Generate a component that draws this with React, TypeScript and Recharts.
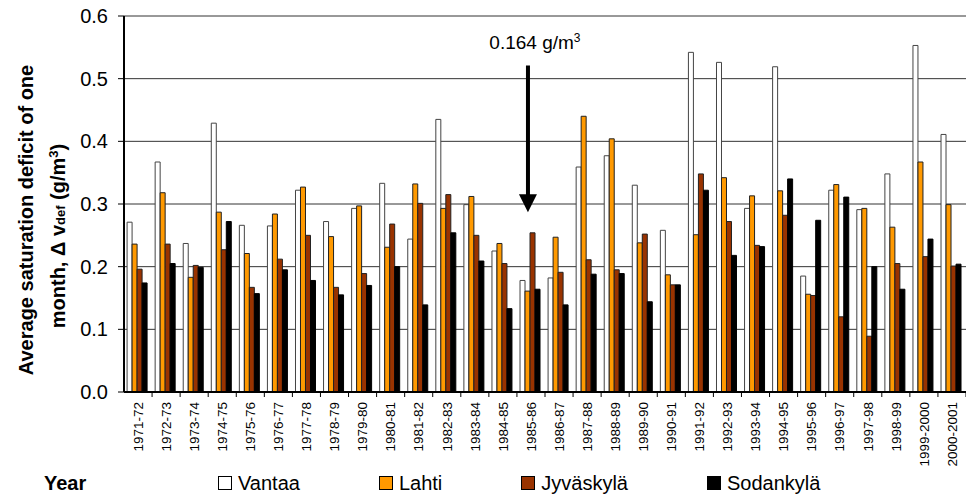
import { BarChart, Bar, XAxis, YAxis, CartesianGrid, Legend, ReferenceLine, Label } from "recharts"

const years = [
  "1971-72", "1972-73", "1973-74", "1974-75", "1975-76", "1976-77", "1977-78", "1978-79",
  "1979-80", "1980-81", "1981-82", "1982-83", "1983-84", "1984-85", "1985-86", "1986-87",
  "1987-88", "1988-89", "1989-90", "1990-91", "1991-92", "1992-93", "1993-94", "1994-95",
  "1995-96", "1996-97", "1997-98", "1998-99", "1999-2000", "2000-2001",
]

const vantaa = [
  0.271, 0.367, 0.237, 0.429, 0.266, 0.265, 0.322, 0.272, 0.293, 0.333,
  0.244, 0.435, 0.299, 0.225, 0.178, 0.182, 0.359, 0.377, 0.33, 0.258,
  0.542, 0.526, 0.293, 0.519, 0.185, 0.322, 0.291, 0.348, 0.553, 0.411,
]
const lahti = [
  0.236, 0.318, 0.183, 0.287, 0.221, 0.284, 0.327, 0.248, 0.297, 0.231,
  0.332, 0.293, 0.312, 0.237, 0.161, 0.247, 0.44, 0.404, 0.238, 0.187,
  0.251, 0.342, 0.313, 0.321, 0.156, 0.331, 0.293, 0.263, 0.367, 0.299,
]
const jyvaskyla = [
  0.196, 0.236, 0.202, 0.227, 0.167, 0.212, 0.25, 0.167, 0.189, 0.268,
  0.301, 0.315, 0.25, 0.205, 0.254, 0.191, 0.211, 0.195, 0.252, 0.171,
  0.348, 0.272, 0.234, 0.282, 0.154, 0.12, 0.089, 0.205, 0.216, 0.201,
]
const sodankyla = [
  0.174, 0.205, 0.199, 0.272, 0.157, 0.195, 0.178, 0.155, 0.17, 0.2,
  0.139, 0.254, 0.209, 0.133, 0.164, 0.139, 0.188, 0.189, 0.144, 0.171,
  0.322, 0.218, 0.232, 0.34, 0.274, 0.311, 0.2, 0.164, 0.244, 0.204,
]

const yTicks = [0, 0.1, 0.2, 0.3, 0.4, 0.5, 0.6]

// arrow annotation pointing at Sodankylä 1985-86
const arrowYear = "1985-86"
const arrowTop = 0.521
const arrowTip = 0.287
const arrowLabel = "0.164 g/m"

const series = [
  { key: "vantaa", name: "Vantaa", fill: "#ffffff", stroke: "#444444" },
  { key: "lahti", name: "Lahti", fill: "#ff9900", stroke: "#222222" },
  { key: "jyvaskyla", name: "Jyväskylä", fill: "#993300", stroke: "#222222" },
  { key: "sodankyla", name: "Sodankylä", fill: "#000000", stroke: "#000000" },
]

const data = years.map((year, i) => ({
  year,
  vantaa: vantaa[i],
  lahti: lahti[i],
  jyvaskyla: jyvaskyla[i],
  sodankyla: sodankyla[i],
}))

const font = "Arial, 'Liberation Sans', sans-serif"

function YearTick({ x, y, payload }: any) {
  const half = payload && payload.offset ? payload.offset : 14
  return (
    <g>
      <line x1={x + half} x2={x + half} y1={y} y2={y + 5} stroke="#000" strokeWidth={1} />
      <text
        transform={`translate(${x},${y + 10}) rotate(-90)`}
        textAnchor="end"
        dy="0.35em"
        fontSize={13.5}
        fontFamily={font}
        fill="#000"
      >
        {payload.value}
      </text>
    </g>
  )
}

function YTitle() {
  return (
    <g fontFamily={font} fontWeight="bold" fontSize={20} fill="#000">
      <text transform="translate(33,220) rotate(-90)" textAnchor="middle">
        Average saturation deficit of one
      </text>
      <text transform="translate(65,236) rotate(-90)" textAnchor="middle">
        month, Δ v<tspan fontSize={13}>def</tspan> (g/m<tspan fontSize={13} baselineShift="super">3</tspan>
        <tspan>)</tspan>
      </text>
    </g>
  )
}

function Arrow(props: any) {
  const { x1, y1, x2, y2 } = props
  if (x1 == null) return null
  const head = 18
  return (
    <g>
      <line x1={x1 - 3} y1={y1} x2={x2 - 3} y2={y2 - head + 1} stroke="#000" strokeWidth={4} />
      <polygon points={`${x2 - 12},${y2 - head} ${x2 + 6},${y2 - head} ${x2 - 3},${y2}`} fill="#000" />
      <text x={x1 + 4} y={y1 - 17} textAnchor="middle" fontSize={19} fontFamily={font} fill="#000">
        {arrowLabel}
        <tspan fontSize={12} baselineShift="super">3</tspan>
      </text>
    </g>
  )
}

function LegendRow() {
  return (
    <div
      style={{
        height: 30,
        paddingTop: 6,
        boxSizing: "border-box",
        display: "flex",
        alignItems: "center",
        fontFamily: font,
        fontSize: 20,
        color: "#000",
        paddingLeft: 44,
      }}
    >
      <span style={{ fontWeight: "bold", width: 174 }}>Year</span>
      {series.map((s) => (
        <span key={s.key} style={{ display: "flex", alignItems: "center", marginRight: 79 }}>
          <span
            style={{
              width: 12,
              height: 12,
              background: s.fill,
              border: "1px solid #000",
              marginRight: 6,
              display: "inline-block",
            }}
          />
          {s.name}
        </span>
      ))}
    </div>
  )
}

export default function App() {
  return (
    <div style={{ position: "absolute", left: 0, top: 0 }}>
      <BarChart
        width={966}
        height={495}
        data={data}
        margin={{ top: 16, right: 0, left: 0, bottom: 0 }}
        barGap={0}
        barCategoryGap="11%"
      >
        <CartesianGrid vertical={false} stroke="#333" strokeWidth={1} />
        <XAxis
          dataKey="year"
          height={73}
          interval={0}
          tickSize={0}
          tickMargin={0}
          tick={<YearTick />}
          axisLine={{ stroke: "#000", strokeWidth: 2 }}
        />
        <YAxis
          width={124}
          domain={[0, 0.6]}
          ticks={yTicks}
          interval={0}
          tickFormatter={(v) => Number(v).toFixed(1)}
          tick={{ fontSize: 20, fill: "#000", fontFamily: font }}
          tickSize={6}
          tickMargin={10}
          tickLine={{ stroke: "#000" }}
          axisLine={{ stroke: "#000", strokeWidth: 2 }}
        >
          <Label content={<YTitle />} />
        </YAxis>
        <Legend verticalAlign="bottom" wrapperStyle={{ left: 0 }} content={<LegendRow />} />
        {series.map((s) => (
          <Bar
            key={s.key}
            dataKey={s.key}
            name={s.name}
            fill={s.fill}
            stroke={s.stroke}
            strokeWidth={1}
            isAnimationActive={false}
          />
        ))}
        <ReferenceLine
          segment={[
            { x: arrowYear, y: arrowTop },
            { x: arrowYear, y: arrowTip },
          ]}
          shape={<Arrow />}
          ifOverflow="visible"
        />
      </BarChart>
    </div>
  )
}
